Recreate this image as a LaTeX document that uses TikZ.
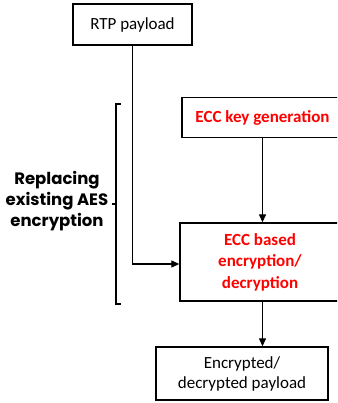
\documentclass[tikz,border=0pt]{standalone}
\usepackage{fontspec}
\setmainfont{Carlito}
\newfontfamily\gothic{Poppins}
\usetikzlibrary{arrows.meta}
\definecolor{ecccol}{RGB}{255,0,0}
\tikzset{
  box/.style={draw=black, line width=1.4pt, inner sep=0pt, align=center,
              font=\fontsize{17}{21.5}\selectfont},
  eccbox/.style={box, text=ecccol, font=\fontsize{17}{21.5}\selectfont\bfseries},
  flow/.style={line width=1.3pt, -{Triangle[length=8pt,width=7pt]}},
  brace/.style={line width=1.3pt}
}
\begin{document}
\begin{tikzpicture}[x=1pt, y=-1pt]
  \useasboundingbox (0,0) rectangle (337,403);
  \clip (0,0) rectangle (337,403);
  % boxes
  \node[box, minimum width=119pt, minimum height=41pt] (rtp) at (132.5,24.5) {RTP payload};
  \node[eccbox, minimum width=161pt, minimum height=40pt] (keygen) at (262.5,117.5) {ECC key generation};
  \node[eccbox, minimum width=160pt, minimum height=78pt] (ecc) at (260,262) {ECC based\\encryption/\\decryption};
  \node[box, minimum width=172pt, minimum height=53pt, font=\fontsize{17}{20}\selectfont] (out) at (242,373.5) {Encrypted/\\decrypted payload};
  % connectors
  \draw[flow] (rtp.south) |- ([yshift=-2pt]ecc.west);
  \draw[flow] (keygen.south) -- (keygen.south |- ecc.north);
  \draw[flow] (keygen.south |- ecc.south) -- (keygen.south |- out.north);
  % bracket with its label
  \coordinate (btop) at (120.5,104);
  \coordinate (bbot) at (120.5,304);
  \coordinate (bmid) at (116,204);
  \draw[brace] (btop) -- (116,104) -- (116,304) -- (bbot);
  \draw[brace] (bmid) -- ++(-4,0) coordinate (btip);
  \node[align=center, font=\gothic\bfseries\fontsize{16.5}{21}\selectfont] (lbl) at (57,201) {Replacing\\existing AES\\encryption};
\end{tikzpicture}
\end{document}
